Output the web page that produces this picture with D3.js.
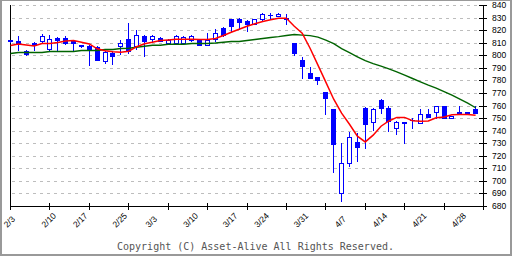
<!DOCTYPE html>
<html>
<head>
<meta charset="utf-8">
<script src="https://cdn.jsdelivr.net/npm/d3@7"></script>
<style>
  body { margin: 0; background: #fff; }
  svg { display: block; }
</style>
</head>
<body>
<svg id="chart"></svg>
<script>
// daily candles, one per slot
const opens = [812, 811.5, 803.5, 810, 811, 805, 814, 814, 811.5, 808,
  807.5, 806.5, 795.5, 802, 807, 813, 807, 815.5, 813, 814,
  809.5, 809.5, 809.5, 812, 812.5, 808.5, 813, 822, 828.5, 829,
  827.5, 825, 829, 832, 831.5, 830, 810, 796.5, 785.5, 783,
  771, 757.5, 690.5, 714, 731, 758, 746.5, 764.5, 758, 742,
  747, 748.5, 746, 753.5, 755, 759.5, 750, 755, 755, 757]
const highs = [812.5, 815.5, 804.5, 810.5, 817, 816.5, 814.5, 815.5, 812, 808.5,
  808, 807, 803, 802.5, 812.5, 826, 820, 816, 816, 814.5,
  813, 816, 815.5, 816, 813, 818, 821, 822.5, 829, 829.5,
  828, 829, 833.5, 834, 833.5, 832.5, 810, 799, 791, 783,
  771, 757.5, 730, 739, 738.5, 758.5, 758, 765.5, 760, 747.5,
  747, 750, 757, 757, 760, 760, 752, 759.5, 755, 759.5]
const lows = [810.5, 804.5, 800, 804.5, 810.5, 804.5, 804.5, 809, 803.5, 806.5,
  792.5, 796, 794, 793, 801, 802, 805, 799.5, 811.5, 811,
  809, 809, 809, 811.5, 808, 808, 811.5, 815, 819.5, 821,
  819, 824.5, 827.5, 829, 831, 825, 800.5, 782, 782, 777,
  753.5, 707, 684, 712, 716, 726.5, 740.5, 754, 739.5, 737.5,
  730.5, 742, 746, 750.5, 750, 750, 750, 753, 753, 754]
const closes = [811, 809, 801, 808, 815.5, 813, 812.5, 809.5, 809.5, 807,
  805, 796.5, 802.5, 799.5, 810, 803, 816.5, 811, 815.5, 811.5,
  812.5, 815.5, 814.5, 815.5, 808.5, 812.5, 818, 816.5, 823.5, 826.5,
  824.5, 828.5, 832.5, 832, 833, 829, 802, 791.5, 782, 780.5,
  766, 729.5, 714, 735, 727, 745.5, 757.5, 758, 747.5, 747,
  746, 748.5, 753.5, 751, 759.5, 750, 751.5, 753, 753.5, 754]

// moving averages
const maShort = [808.2, 809.4, 808.6, 807.8, 809.8, 809.8, 810.5, 811.8, 812.1, 810.8,
  809.4, 805.5, 803.9, 803.1, 802.8, 803.6, 807.2, 809.6, 810.8, 812.1,
  812.6, 813.2, 813.2, 813.2, 812.9, 812.9, 813.7, 816.1, 818.7, 821.1,
  823.5, 825.4, 827.3, 828.7, 829.9, 829.9, 823.5, 818, 806, 792.5,
  779, 765.4, 754.3, 745.5, 736, 731.4, 736.8, 743.9, 748.1, 750.9,
  750.9, 748.3, 747.9, 748.1, 750.7, 751.3, 753.1, 753.2, 753.2, 752.7]
const maLong = [801.8, 802.6, 802.6, 802.6, 802.6, 803.4, 803.4, 803.4, 803.4, 804.2,
  804.2, 804.2, 805, 805, 805.8, 806, 806.8, 807.6, 808.4, 808.4,
  809.2, 809.2, 809.2, 809.8, 809.8, 809.8, 810.2, 810.8, 811.3, 811.3,
  812.1, 812.9, 813.7, 814.5, 815.2, 816.1, 816.9, 816.4, 816, 814.8,
  812.4, 809.6, 805.6, 802.4, 799.2, 796.1, 793.7, 791.7, 789.5, 787.1,
  784.5, 781.9, 779.2, 776.6, 774.2, 771.4, 768.6, 765.4, 762.2, 758.6]

const tickSlots = [0, 5, 10, 15, 20, 25, 30, 35, 40, 45, 50, 55, 60]
const dateLabels = ["2/3", "2/10", "2/17", "2/25", "3/3", "3/10", "3/17", "3/24", "3/31", "4/7", "4/14", "4/21", "4/28"]
const dateLabelSlots = [0, 5, 9, 14, 18, 23, 28, 32, 37, 42, 47, 52, 57]
const priceTicks = [680, 690, 700, 710, 720, 730, 740, 750, 760, 770, 780, 790, 800, 810, 820, 830, 840]

const width = 512
const height = 256
const blue = "#0000ff"

const svg = d3.select("#chart").attr("width", width).attr("height", height).style("background", "#fff")

const x = d3.scaleLinear().domain([0, 60]).range([10, 483])
const y = d3.scaleLinear().domain([680, 840]).range([206, 5])
const px = (i) => Math.round(x(i))
const py = (v) => Math.round(y(v))

// grid
svg
  .append("g")
  .selectAll("line")
  .data(priceTicks.filter((d) => d > 680))
  .enter()
  .append("line")
  .attr("x1", 12)
  .attr("x2", 481)
  .attr("y1", (d) => py(d) + 0.5)
  .attr("y2", (d) => py(d) + 0.5)
  .attr("stroke", "#bdbdbd")
  .attr("stroke-width", 1)
  .attr("stroke-dasharray", "3,4")

// axis frame lines
const frame = svg.append("g").attr("stroke", "#000").attr("stroke-width", 1)
frame.append("line").attr("x1", 10.5).attr("x2", 10.5).attr("y1", 5).attr("y2", 207)
frame.append("line").attr("x1", 483.5).attr("x2", 483.5).attr("y1", 5).attr("y2", 207)
frame.append("line").attr("x1", 10).attr("x2", 487).attr("y1", 206.5).attr("y2", 206.5)

// right price axis
const yAxis = d3.axisRight(y).tickValues(priceTicks).tickSize(4).tickSizeOuter(0).tickPadding(5)
svg
  .append("g")
  .attr("transform", "translate(483,0)")
  .call(yAxis)
  .call((g) => g.select(".domain").remove())
  .call((g) => g.selectAll(".tick").attr("transform", (d) => `translate(0,${py(d) + 0.5})`))
  .call((g) => g.selectAll(".tick line").attr("x1", -4).attr("stroke", "#000"))
  .call((g) =>
    g.selectAll(".tick text").attr("fill", "#000").style("font-family", "'Liberation Sans', Arial, sans-serif").style("font-size", "8.5px")
  )

// bottom axis ticks (every 5 slots)
const xAxis = d3.axisBottom(x).tickValues(tickSlots).tickSize(4).tickSizeOuter(0).tickFormat("")
svg
  .append("g")
  .attr("transform", "translate(0,206)")
  .call(xAxis)
  .call((g) => g.select(".domain").remove())
  .call((g) => g.selectAll(".tick").attr("transform", (d) => `translate(${px(d) + 0.5},0)`))
  .call((g) => g.selectAll(".tick line").attr("y1", -3).attr("stroke", "#000"))

// date labels, rotated
svg
  .append("g")
  .selectAll("text")
  .data(dateLabels)
  .enter()
  .append("text")
  .text((d) => d)
  .attr("text-anchor", "middle")
  .attr("fill", "#000")
  .style("font-family", "'Liberation Sans', Arial, sans-serif")
  .style("font-size", "8.5px")
  .attr("transform", function (d, i) {
    const len = this.getComputedTextLength()
    const cx = x(dateLabelSlots[i]) + 1.4
    const cy = 228 - len * 0.354
    return `translate(${cx},${cy}) rotate(-45)`
  })

// candles
const candles = opens.map((o, i) => ({ i, o, h: highs[i], l: lows[i], c: closes[i] }))
const cg = svg.append("g")

cg.selectAll("line.wick")
  .data(candles)
  .enter()
  .append("line")
  .attr("class", "wick")
  .attr("x1", (d) => px(d.i) + 0.5)
  .attr("x2", (d) => px(d.i) + 0.5)
  .attr("y1", (d) => py(d.h))
  .attr("y2", (d) => py(d.l) + 1)
  .attr("stroke", blue)
  .attr("stroke-width", 1)

// down days: filled
cg.selectAll("rect.down")
  .data(candles.filter((d) => d.c < d.o))
  .enter()
  .append("rect")
  .attr("class", "down")
  .attr("x", (d) => px(d.i) - 2)
  .attr("y", (d) => py(d.o))
  .attr("width", 5)
  .attr("height", (d) => Math.max(py(d.c) - py(d.o), 0) + 1)
  .attr("fill", blue)

// up days: hollow
cg.selectAll("rect.up")
  .data(candles.filter((d) => d.c > d.o))
  .enter()
  .append("rect")
  .attr("class", "up")
  .attr("x", (d) => px(d.i) - 1.5)
  .attr("y", (d) => py(d.c) + 0.5)
  .attr("width", 4)
  .attr("height", (d) => Math.max(py(d.o) - py(d.c), 1))
  .attr("fill", "#fff")
  .attr("stroke", blue)
  .attr("stroke-width", 1)

// doji: flat bar
cg.selectAll("line.doji")
  .data(candles.filter((d) => d.c === d.o))
  .enter()
  .append("line")
  .attr("class", "doji")
  .attr("x1", (d) => px(d.i) - 2)
  .attr("x2", (d) => px(d.i) + 3)
  .attr("y1", (d) => py(d.o) + 0.5)
  .attr("y2", (d) => py(d.o) + 0.5)
  .attr("stroke", blue)
  .attr("stroke-width", 1)

// moving average lines
const maLine = d3
  .line()
  .x((d, i) => x(i) + 0.5)
  .y((d) => y(d) + 0.5)

svg.append("path").datum(maLong).attr("d", maLine).attr("fill", "none").attr("stroke", "#006400").attr("stroke-width", 1.4)
svg.append("path").datum(maShort).attr("d", maLine).attr("fill", "none").attr("stroke", "#ff0000").attr("stroke-width", 1.5)

// copyright
svg
  .append("text")
  .attr("x", 255.5)
  .attr("y", 249.5)
  .attr("text-anchor", "middle")
  .attr("fill", "#555")
  .style("font-family", "'DejaVu Sans Mono', monospace")
  .style("font-size", "10px")
  .text("Copyright (C) Asset-Alive All Rights Reserved.")

// outer border
const border = svg.append("g").attr("stroke", "#999").attr("fill", "none")
border.append("line").attr("x1", 0).attr("x2", width).attr("y1", 0.5).attr("y2", 0.5)
border.append("line").attr("x1", 1).attr("x2", 1).attr("y1", 0).attr("y2", height).attr("stroke-width", 2)
border.append("line").attr("x1", width - 1).attr("x2", width - 1).attr("y1", 0).attr("y2", height).attr("stroke-width", 2)
border.append("line").attr("x1", 0).attr("x2", width).attr("y1", height - 1).attr("y2", height - 1).attr("stroke-width", 2)
</script>
</body>
</html>
